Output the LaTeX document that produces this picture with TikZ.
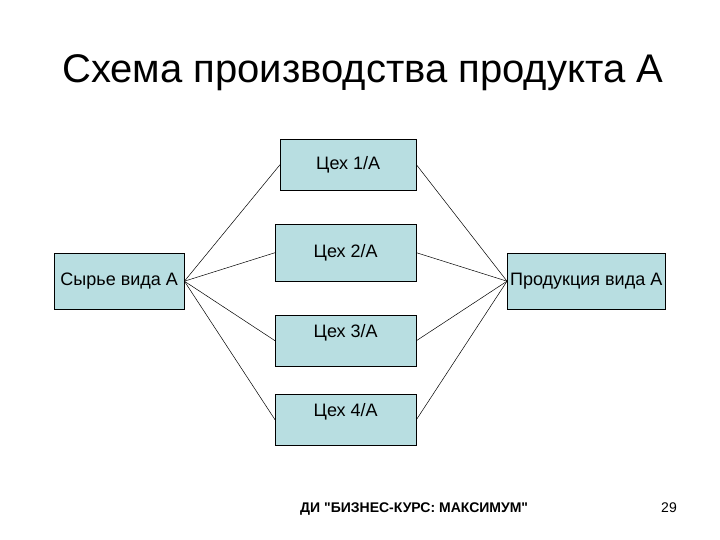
\documentclass[tikz,border=0pt]{standalone}
\usepackage{fontspec}
\setmainfont{Liberation Sans}
\usetikzlibrary{positioning}
\definecolor{shopfill}{RGB}{184,222,225}

\begin{document}
\begin{tikzpicture}[
  x=1pt, y=-1pt,
  box/.style={rectangle, draw, fill=shopfill, anchor=north west, inner sep=0pt, font=\fontsize{18}{20}\selectfont},
  topbox/.style={box, text height=22.5pt, text depth=28.5pt},
  every edge/.style={draw, line width=0.5pt}
  ]

\useasboundingbox (0,0) rectangle (720,540);

% Title
\node[anchor=base west, inner sep=0pt, font=\fontsize{40}{44}\selectfont] (title) at (62,83) {Схема производства продукта А};

% Nodes
\node[box, minimum width=130pt, minimum height=56pt] (raw) at (54,253) {Сырье вида А};
\node[box, minimum width=136pt, minimum height=51pt] (shop1) at (280,139) {Цех 1/А};
\node[box, minimum width=141pt, minimum height=57pt] (shop2) at (275,224) {Цех 2/А};
\node[topbox, minimum width=141pt] (shop3) at (275,315) {Цех 3/А};
\node[topbox, minimum width=141pt] (shop4) at (275,394) {Цех 4/А};
\node[box, minimum width=158pt, minimum height=56pt] (prod) at (507,253) {Продукция вида А};

% Edges
\foreach \i in {1,...,4} {
  \path (raw.east) edge (shop\i.west);
  \path (shop\i.east) edge (prod.west);
}

% Footer
\node[anchor=base west, inner sep=0pt, font=\bfseries\fontsize{14}{16}\selectfont] (footer) at (300,512) {ДИ \textquotedbl БИЗНЕС-КУРС: МАКСИМУМ\textquotedbl};
\node[anchor=base east, inner sep=0pt, font=\fontsize{14}{16}\selectfont] (page) at (677,512) {29};

\end{tikzpicture}
\end{document}
